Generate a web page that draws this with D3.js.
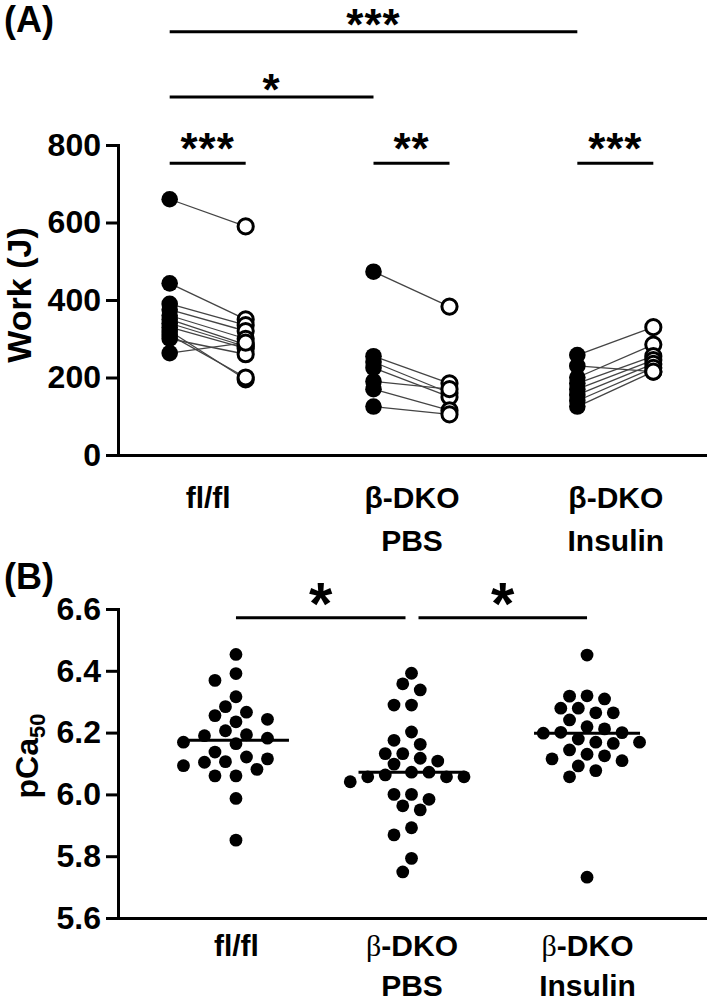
<!DOCTYPE html>
<html>
<head>
<meta charset="utf-8">
<script src="https://cdn.jsdelivr.net/npm/d3@7/dist/d3.min.js"></script>
<style>
  body { margin: 0; background: #fff; }
  text { font-family: "Liberation Sans", Arial, sans-serif; font-weight: bold; fill: #000; }
</style>
</head>
<body>
<svg id="fig" width="709" height="1006"></svg>
<script>
// ---- data ----
var groups = ["fl/fl", "β-DKO PBS", "β-DKO Insulin"];
var groupLines = [["fl/fl"], ["β-DKO", "PBS"], ["β-DKO", "Insulin"]];

// panel A: work (J), paired before (filled) / after (open)
var flflPre  = [660, 443, 390, 375, 360, 350, 340, 330, 320, 310, 300, 263];
var flflPost = [590, 350, 335, 320, 300, 285, 280, 275, 195, 200, 260, 290];
var pbsPre   = [473, 255, 240, 225, 190, 170, 125];
var pbsPost  = [383, 185, 160, 150, 170, 115, 105];
var insPre   = [258, 230, 200, 185, 170, 155, 140, 125];
var insPost  = [330, 215, 285, 255, 245, 235, 225, 215];
var workTicks = [0, 200, 400, 600, 800];

// panel B: pCa50 per fibre
var flflPca = [6.453, 6.391, 6.369, 6.316, 6.266, 6.255, 6.235, 6.284, 6.243, 6.206, 6.190, 6.182, 6.193,
               6.164, 6.169, 6.104, 6.115, 6.093, 6.121, 6.137, 6.106, 6.060, 6.060, 6.081, 5.987, 5.852];
var pbsPca  = [6.392, 6.358, 6.338, 6.289, 6.289, 6.202, 6.175, 6.162, 6.132, 6.117, 6.132, 6.108, 6.098,
               6.072, 6.057, 6.057, 6.063, 6.041, 6.057, 6.072, 6.000, 5.984, 6.000, 5.950, 5.963, 5.892,
               5.869, 5.793, 5.749];
var insPca  = [6.451, 6.309, 6.319, 6.279, 6.279, 6.264, 6.318, 6.264, 6.241, 6.201, 6.212, 6.219, 6.200,
               6.179, 6.169, 6.165, 6.169, 6.144, 6.130, 6.115, 6.125, 6.109, 6.092, 6.077, 6.057, 5.732, 6.198];
var pcaTicks = [5.6, 5.8, 6.0, 6.2, 6.4, 6.6];

// significance marks: [from group, to group, label]
var sigA = [[0, 2, "***"], [0, 1, "*"]];
var sigPairs = ["***", "**", "***"];
var sigB = [[0, 1, "*"], [1, 2, "*"]];

// ---- drawing ----
var svg = d3.select("#fig");

function styleAxis(g) {
    g.select(".domain").attr("stroke", "#000").attr("stroke-width", 3).attr("stroke-linecap", "square");
    g.selectAll(".tick line").attr("stroke", "#000").attr("stroke-width", 3);
    g.selectAll(".tick text").style("font-size", "30px").attr("fill", "#000");
}

function catLabels(g, lines, serifBeta) {
    g.selectAll(".tick text").each(function (d, i) {
        var t = d3.select(this).text("").attr("y", 0).attr("dy", null);
        groupLines[i].forEach(function (ln, j) {
            var ts = t.append("tspan").attr("x", 0).attr("y", lines[j]);
            if (serifBeta && ln.indexOf("β") === 0) {
                ts.append("tspan").text("β")
                    .style("font-family", "'Liberation Serif', 'Times New Roman', serif")
                    .style("font-weight", "normal");
                ts.append("tspan").text(ln.slice(1));
            } else {
                ts.text(ln);
            }
        });
    });
}

// Panel A
var yA = d3.scaleLinear().domain([0, 800]).range([455, 145]);
var xA = d3.scalePoint().domain(groups).range([118, 705]).padding(0.44);
var pairOff = 38;

svg.append("g").attr("transform", "translate(0,455)")
    .call(d3.axisBottom(xA).tickSize(0).tickSizeOuter(0))
    .call(styleAxis)
    .call(catLabels, [53, 96], false);

svg.append("g").attr("transform", "translate(118,0)")
    .call(d3.axisLeft(yA).tickValues(workTicks).tickSize(12).tickSizeOuter(0).tickPadding(5))
    .call(styleAxis)
    .call(function (g) { g.selectAll(".tick text").style("font-size", "32px"); });

var pairData = [[flflPre, flflPost], [pbsPre, pbsPost], [insPre, insPost]];
pairData.forEach(function (p, gi) {
    var cx = xA(groups[gi]);
    var pairs = p[0].map(function (v, i) { return { pre: v, post: p[1][i] }; });
    var g = svg.append("g");
    g.selectAll("line").data(pairs).enter().append("line")
        .attr("x1", cx - pairOff).attr("x2", cx + pairOff)
        .attr("y1", function (d) { return yA(d.pre); })
        .attr("y2", function (d) { return yA(d.post); })
        .attr("stroke", "#444").attr("stroke-width", 1.3);
    g.selectAll("circle.pre").data(pairs).enter().append("circle")
        .attr("cx", cx - pairOff).attr("cy", function (d) { return yA(d.pre); })
        .attr("r", 8.3).attr("fill", "#000");
    g.selectAll("circle.post").data(pairs).enter().append("circle")
        .attr("cx", cx + pairOff).attr("cy", function (d) { return yA(d.post); })
        .attr("r", 7.6).attr("fill", "#fff").attr("stroke", "#000").attr("stroke-width", 3);

    // pair bracket
    svg.append("line").attr("x1", cx - pairOff).attr("x2", cx + pairOff)
        .attr("y1", yA(753)).attr("y2", yA(753)).attr("stroke", "#000").attr("stroke-width", 3);
    svg.append("text").attr("x", cx).attr("y", yA(753) + 1).attr("text-anchor", "middle")
        .style("font-size", "44px").style("letter-spacing", "1px").text(sigPairs[gi]);
});

var sigALevels = [1092, 924];
sigA.forEach(function (s, i) {
    var x1 = xA(groups[s[0]]) - pairOff, x2 = xA(groups[s[1]]) - pairOff, y = yA(sigALevels[i]);
    svg.append("line").attr("x1", x1).attr("x2", x2).attr("y1", y).attr("y2", y)
        .attr("stroke", "#000").attr("stroke-width", 3);
    svg.append("text").attr("x", (x1 + x2) / 2).attr("y", y + 8).attr("text-anchor", "middle")
        .style("font-size", "44px").style("letter-spacing", "1px").text(s[2]);
});

svg.append("text").attr("x", 4).attr("y", 32).style("font-size", "36px").text("(A)");
svg.append("text").attr("transform", "translate(31,295) rotate(-90)").attr("text-anchor", "middle")
    .style("font-size", "34px").text("Work (J)");

// Panel B
var yB = d3.scaleLinear().domain([5.6, 6.6]).range([918, 609]);
var xB = d3.scalePoint().domain(groups).range([118, 705]).padding(0.672);

svg.append("g").attr("transform", "translate(0,918)")
    .call(d3.axisBottom(xB).tickSize(0).tickSizeOuter(0))
    .call(styleAxis)
    .call(catLabels, [38, 78], true);

svg.append("g").attr("transform", "translate(118,0)")
    .call(d3.axisLeft(yB).tickValues(pcaTicks).tickFormat(d3.format(".1f")).tickSize(12).tickSizeOuter(0).tickPadding(5))
    .call(styleAxis)
    .call(function (g) { g.selectAll(".tick text").style("font-size", "32px"); });

// simple column scatter: place each dot at the nearest free horizontal slot
function swarm(vals, r, step) {
    var pts = vals.map(function (v) { return { v: v, y: yB(v) }; })
        .sort(function (a, b) { return a.y - b.y; });
    var slots = d3.range(-10, 11).map(function (k) { return k * step / 2; })
        .sort(function (a, b) { return Math.abs(a) - Math.abs(b) || a - b; });
    var placed = [], dmin = 2 * r + 0.8;
    pts.forEach(function (p) {
        for (var k = 0; k < slots.length; k++) {
            var dx = slots[k];
            var ok = placed.every(function (q) { return Math.hypot(q.dx - dx, q.y - p.y) >= dmin; });
            if (ok) { p.dx = dx; break; }
        }
        placed.push(p);
    });
    return placed;
}

[flflPca, pbsPca, insPca].forEach(function (vals, gi) {
    var cx = xB(groups[gi]);
    var pts = swarm(vals, 6.4, gi === 0 ? 21 : 17.5);
    svg.append("g").selectAll("circle").data(pts).enter().append("circle")
        .attr("cx", function (d) { return cx + d.dx; })
        .attr("cy", function (d) { return d.y; })
        .attr("r", 6.4).attr("fill", "#000");
    var med = d3.median(vals);
    svg.append("line").attr("x1", cx - 53).attr("x2", cx + 53)
        .attr("y1", yB(med)).attr("y2", yB(med)).attr("stroke", "#000").attr("stroke-width", 3);
});

var sigBLevel = 6.572;
sigB.forEach(function (s, i) {
    var x1 = xB(groups[s[0]]) + (i === 0 ? 0 : 7), x2 = xB(groups[s[1]]) - (i === 0 ? 6 : 0);
    var y = yB(sigBLevel);
    svg.append("line").attr("x1", x1).attr("x2", x2).attr("y1", y).attr("y2", y)
        .attr("stroke", "#000").attr("stroke-width", 3);
    svg.append("text").attr("x", (x1 + x2) / 2).attr("y", y + 6).attr("text-anchor", "middle")
        .style("font-size", "60px").text(s[2]);
});

svg.append("text").attr("x", 4).attr("y", 589).style("font-size", "36px").text("(B)");
var pl = svg.append("text").attr("transform", "translate(38,756) rotate(-90)").attr("text-anchor", "middle")
    .style("font-size", "32px");
pl.append("tspan").text("pCa");
pl.append("tspan").attr("dy", 7).style("font-size", "22px").text("50");
</script>
</body>
</html>
